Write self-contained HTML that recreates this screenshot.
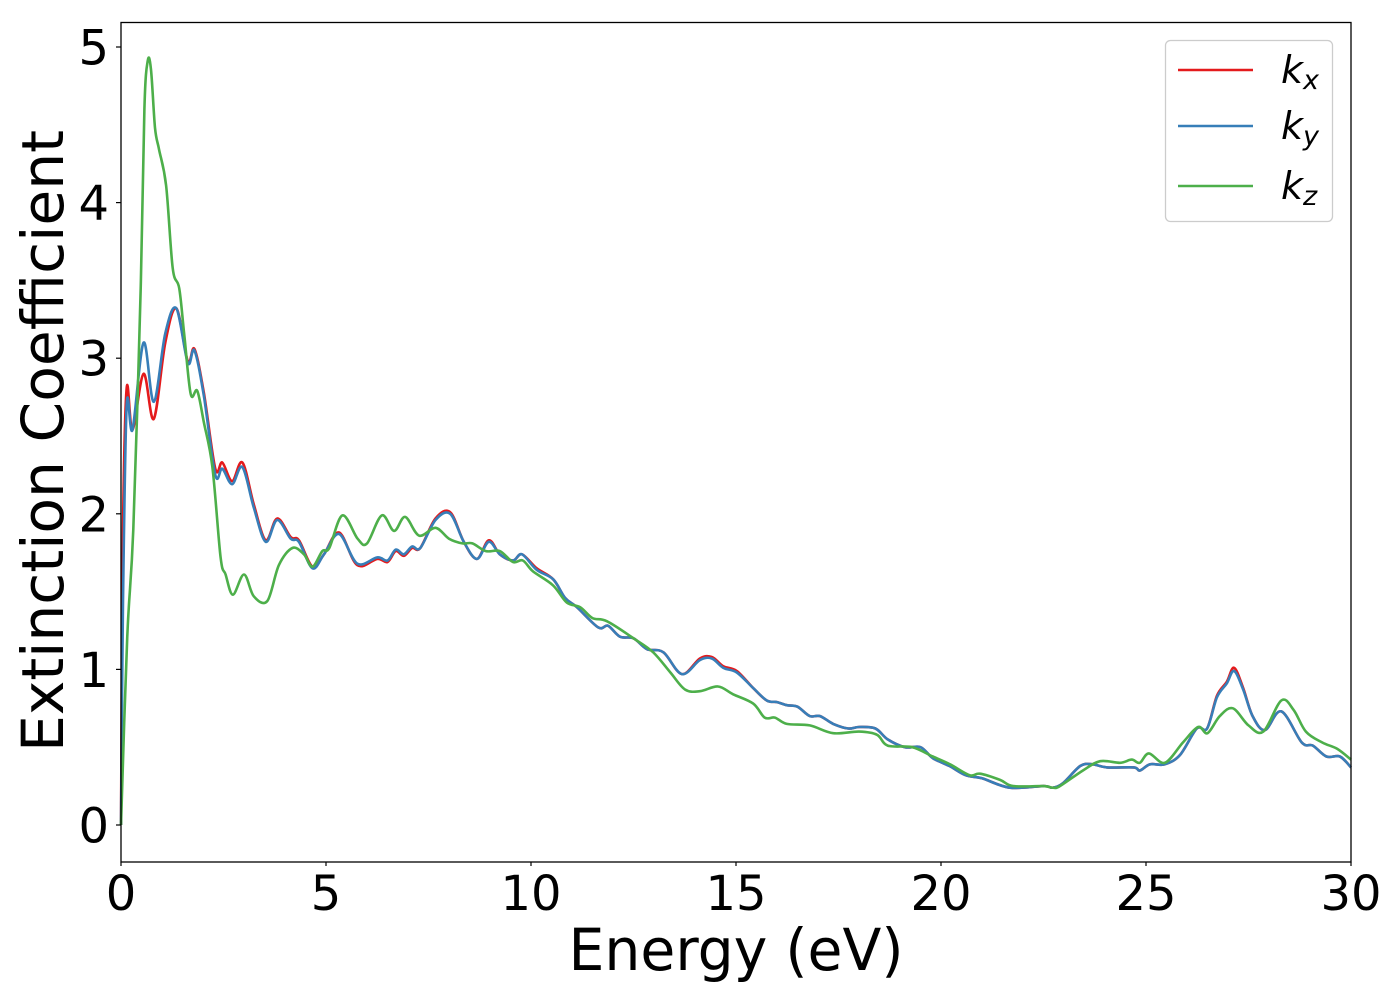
<!DOCTYPE html>
<html><head><meta charset="utf-8"><style>
html,body{margin:0;padding:0;background:#fff;}
svg{display:block;font-family:"DejaVu Sans","Liberation Sans",sans-serif;}
</style></head><body>
<svg id="chart" width="1400" height="1000" viewBox="0 0 1400 1000" xmlns="http://www.w3.org/2000/svg">
<rect width="1400" height="1000" fill="#fff"/>
<g id="series"></g>
<rect x="121" y="22.5" width="1230" height="839.5" fill="none" stroke="#000" stroke-width="1.3"/>
<g id="xticks"></g>
<g id="yticks"></g>
<text x="736" y="970" font-size="58" text-anchor="middle" textLength="335" lengthAdjust="spacingAndGlyphs">Energy (eV)</text>
<text transform="translate(63,441) rotate(-90)" font-size="58" text-anchor="middle" textLength="622" lengthAdjust="spacingAndGlyphs">Extinction Coefficient</text>
<g>
<rect x="1165.5" y="40.5" width="167" height="181" rx="5" fill="#fff" stroke="#ccc" stroke-width="1.3"/>
<line x1="1178" y1="70" x2="1253" y2="70" stroke="#e41a1c" stroke-width="2.5"/>
<text x="1281" y="83" font-size="38" font-style="italic">k<tspan font-size="27" dy="6">x</tspan></text>
<line x1="1178" y1="126" x2="1253" y2="126" stroke="#377eb8" stroke-width="2.5"/>
<text x="1281" y="139" font-size="38" font-style="italic">k<tspan font-size="27" dy="6">y</tspan></text>
<line x1="1178" y1="186" x2="1253" y2="186" stroke="#4daf4a" stroke-width="2.5"/>
<text x="1281" y="199" font-size="38" font-style="italic">k<tspan font-size="27" dy="6">z</tspan></text>
</g>
</svg>
<script>
const xTicks = [0, 5, 10, 15, 20, 25, 30];
const yTicks = [0, 1, 2, 3, 4, 5];
const energyXY = [0,0.05,0.14,0.28,0.55,0.8,1.08,1.35,1.63,1.79,2.02,2.3,2.47,2.71,2.96,3.24,3.53,3.81,4.14,4.34,4.67,4.95,5.32,5.76,6.25,6.5,6.7,6.9,7.1,7.3,7.67,8.03,8.36,8.68,8.97,9.24,9.56,9.78,10.14,10.54,10.83,11.12,11.64,11.88,12.17,12.5,12.83,13.23,13.68,14.12,14.41,14.69,15.02,15.42,15.75,16.0,16.24,16.5,16.8,17.05,17.37,17.74,18.0,18.4,18.7,19.12,19.5,19.8,20.2,20.6,21.0,21.68,22.5,22.73,22.98,23.4,23.7,24.05,24.7,24.85,25.1,25.46,25.83,26.24,26.49,26.73,26.97,27.15,27.37,27.6,27.9,28.3,28.8,29.07,29.4,29.73,30];
const kyValues = [0,1.44,2.70,2.54,3.10,2.72,3.16,3.32,2.97,3.05,2.76,2.25,2.29,2.19,2.30,2.04,1.82,1.96,1.84,1.82,1.65,1.74,1.87,1.68,1.72,1.70,1.77,1.74,1.79,1.78,1.96,2.00,1.82,1.71,1.82,1.74,1.70,1.74,1.64,1.58,1.46,1.40,1.27,1.28,1.21,1.20,1.13,1.11,0.97,1.06,1.07,1.01,0.98,0.88,0.80,0.79,0.77,0.76,0.70,0.70,0.65,0.62,0.63,0.62,0.55,0.50,0.50,0.43,0.38,0.32,0.30,0.24,0.25,0.24,0.27,0.38,0.39,0.37,0.37,0.35,0.39,0.39,0.45,0.62,0.62,0.82,0.91,0.99,0.87,0.70,0.61,0.73,0.53,0.51,0.44,0.44,0.37];
const kxValues = [0,1.90,2.81,2.54,2.90,2.61,3.10,3.32,2.98,3.06,2.78,2.29,2.33,2.21,2.33,2.06,1.83,1.97,1.85,1.83,1.66,1.74,1.88,1.67,1.71,1.69,1.76,1.73,1.78,1.78,1.97,2.01,1.82,1.71,1.83,1.74,1.70,1.74,1.65,1.58,1.46,1.40,1.27,1.28,1.21,1.20,1.13,1.11,0.97,1.07,1.08,1.02,0.99,0.88,0.80,0.79,0.77,0.76,0.70,0.70,0.65,0.62,0.63,0.62,0.55,0.50,0.50,0.43,0.38,0.32,0.30,0.24,0.25,0.24,0.27,0.38,0.39,0.37,0.37,0.35,0.39,0.39,0.45,0.62,0.62,0.83,0.92,1.01,0.88,0.70,0.61,0.73,0.53,0.51,0.44,0.44,0.37];
const energyZ = [0,0.15,0.3,0.48,0.57,0.65,0.73,0.83,0.93,1.1,1.26,1.42,1.54,1.7,1.86,2.02,2.23,2.43,2.55,2.73,3.0,3.24,3.57,3.85,4.18,4.46,4.67,4.91,5.08,5.4,5.77,6.0,6.36,6.66,6.93,7.27,7.67,8.0,8.33,8.57,8.9,9.24,9.56,9.8,10.05,10.54,10.87,11.2,11.5,11.85,12.5,12.98,13.4,13.76,14.12,14.56,14.93,15.42,15.7,15.95,16.24,16.8,17.37,18.0,18.44,18.7,19.3,19.8,20.22,20.7,20.95,21.44,21.76,22.5,22.73,22.9,23.46,23.88,24.37,24.65,24.85,25.07,25.46,25.9,26.27,26.5,26.8,27.12,27.5,27.86,28.3,28.6,28.9,29.3,29.66,30];
const kzValues = [0,1.2,1.9,3.45,4.6,4.91,4.86,4.48,4.34,4.11,3.58,3.45,3.16,2.77,2.79,2.59,2.30,1.72,1.61,1.48,1.61,1.47,1.44,1.67,1.78,1.74,1.66,1.76,1.78,1.99,1.84,1.81,1.99,1.89,1.98,1.86,1.91,1.84,1.81,1.81,1.76,1.76,1.69,1.70,1.63,1.54,1.43,1.40,1.33,1.31,1.20,1.11,0.98,0.87,0.86,0.89,0.84,0.78,0.69,0.69,0.65,0.64,0.59,0.60,0.58,0.51,0.50,0.44,0.39,0.32,0.33,0.29,0.25,0.25,0.24,0.25,0.35,0.41,0.40,0.42,0.40,0.46,0.40,0.53,0.63,0.59,0.70,0.75,0.64,0.60,0.80,0.74,0.60,0.53,0.49,0.42];

const NS = 'http://www.w3.org/2000/svg';
const X0 = 121, X1 = 1351, XMIN = 0, XMAX = 30;
const YZERO = 825, YPER = 155.6;
function xScale(e){ return X0 + (e - XMIN) / (XMAX - XMIN) * (X1 - X0); }
function yScale(v){ return YZERO - v * YPER; }

function smoothPath(xs, ys){
  const p = xs.map((x,i)=>[xScale(x), yScale(ys[i])]);
  let d = 'M' + p[0][0].toFixed(1) + ',' + p[0][1].toFixed(1);
  for (let i=0;i<p.length-1;i++){
    const p0 = p[Math.max(0,i-1)], p1 = p[i], p2 = p[i+1], p3 = p[Math.min(p.length-1,i+2)];
    const t = 0.5/3;
    const c1 = [p1[0]+(p2[0]-p0[0])*t, p1[1]+(p2[1]-p0[1])*t];
    const c2 = [p2[0]-(p3[0]-p1[0])*t, p2[1]-(p3[1]-p1[1])*t];
    d += ' C'+c1[0].toFixed(1)+','+c1[1].toFixed(1)+' '+c2[0].toFixed(1)+','+c2[1].toFixed(1)+' '+p2[0].toFixed(1)+','+p2[1].toFixed(1);
  }
  return d;
}

const g = document.getElementById('series');
function addLine(xs, ys, color, name){
  const path = document.createElementNS(NS,'path');
  path.setAttribute('d', smoothPath(xs, ys));
  path.setAttribute('fill','none');
  path.setAttribute('stroke', color);
  path.setAttribute('stroke-width','2.6');
  path.setAttribute('stroke-linejoin','round');
  
  
  g.appendChild(path);
}
addLine(energyXY, kxValues, '#e41a1c', 'series-kx');
addLine(energyXY, kyValues, '#377eb8', 'series-ky');
addLine(energyZ, kzValues, '#4daf4a', 'series-kz');

const xg = document.getElementById('xticks');
xTicks.forEach(t=>{
  const x = xScale(t);
  const ln = document.createElementNS(NS,'line');
  ln.setAttribute('x1',x); ln.setAttribute('x2',x); ln.setAttribute('y1',862); ln.setAttribute('y2',866);
  ln.setAttribute('stroke','#000'); ln.setAttribute('stroke-width','1.2');
  
  
  xg.appendChild(ln);
  const tx = document.createElementNS(NS,'text');
  tx.setAttribute('x',x); tx.setAttribute('y',910);
  tx.setAttribute('font-size','48'); tx.setAttribute('text-anchor','middle');
  tx.textContent = t;
  
  
  xg.appendChild(tx);
});
const yg = document.getElementById('yticks');
yTicks.forEach(t=>{
  const y = yScale(t);
  const ln = document.createElementNS(NS,'line');
  ln.setAttribute('x1',116); ln.setAttribute('x2',121); ln.setAttribute('y1',y); ln.setAttribute('y2',y);
  ln.setAttribute('stroke','#000'); ln.setAttribute('stroke-width','1.2');
  
  
  yg.appendChild(ln);
  const tx = document.createElementNS(NS,'text');
  tx.setAttribute('x',109); tx.setAttribute('y',y+17.5);
  tx.setAttribute('font-size','48'); tx.setAttribute('text-anchor','end');
  tx.textContent = t;
  
  
  yg.appendChild(tx);
});
</script>
</body></html>
